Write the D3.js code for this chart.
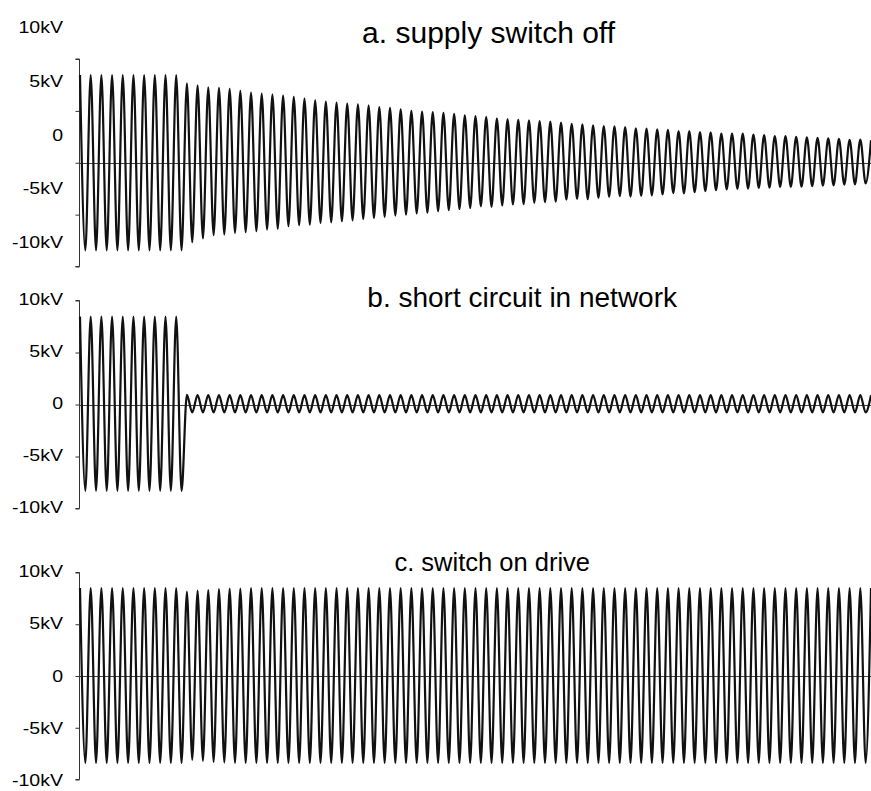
<!DOCTYPE html>
<html>
<head>
<meta charset="utf-8">
<script src="https://cdn.jsdelivr.net/npm/d3@7"></script>
<style>
  html, body { margin: 0; padding: 0; background: #fff; }
  svg { display: block; }
  text { font-family: "Liberation Sans", Arial, sans-serif; fill: #000; }
</style>
</head>
<body>
<div id="chart"></div>
<script>
// number of cycles shown on the time axis
const CYCLES = 74;

const tickValues = [-10, -5, 0, 5, 10];
const tickLabels = ["-10kV", "-5kV", "0", "5kV", "10kV"];
const titles = ["a. supply switch off", "b. short circuit in network", "c. switch on drive"];

// positive peak of each cycle (kV)
const aTop = [
  8.45, 8.45, 8.45, 8.45, 8.45, 8.45, 8.45, 8.45, 8.45, 8.45,
  7.65, 7.46, 7.26, 7.22, 7.12, 6.92, 6.76, 6.66, 6.56, 6.48,
  6.34, 6.18, 6.02, 5.9, 5.8, 5.7, 5.62, 5.52, 5.36, 5.3,
  5.14, 5.0, 4.92, 4.88, 4.8, 4.72, 4.58, 4.5, 4.42, 4.28,
  4.2, 4.16, 4.08, 4.02, 3.96, 3.86, 3.76, 3.7, 3.6, 3.54,
  3.52, 3.44, 3.32, 3.28, 3.22, 3.18, 3.06, 3.04, 2.96, 2.94,
  2.82, 2.82, 2.8, 2.72, 2.66, 2.58, 2.56, 2.5, 2.46, 2.4,
  2.34, 2.3, 2.2, 2.24, 2.18
];
// negative peak of each cycle (kV)
const aBottom = [
  -8.45, -8.45, -8.45, -8.45, -8.45, -8.45, -8.45, -8.45, -8.45, -8.45,
  -7.66, -7.3, -6.98, -6.92, -6.76, -6.7, -6.6, -6.44, -6.36, -6.12,
  -6.02, -5.96, -5.8, -5.74, -5.64, -5.55, -5.42, -5.33, -5.21, -5.09,
  -4.99, -4.88, -4.82, -4.67, -4.57, -4.46, -4.36, -4.2, -4.26, -4.12,
  -4.02, -4.0, -3.86, -3.8, -3.76, -3.56, -3.48, -3.52, -3.38, -3.28,
  -3.22, -3.26, -3.2, -3.14, -3.06, -2.92, -2.96, -2.84, -2.74, -2.64,
  -2.58, -2.52, -2.5, -2.42, -2.4, -2.32, -2.32, -2.3, -2.26, -2.2,
  -2.18, -2.1, -2.08, -2.0
];

const bTop = [
  8.45, 8.45, 8.45, 8.45, 8.45, 8.45, 8.45, 8.45, 8.45, 8.45,
  0.92, 0.9, 0.9, 0.9, 0.9, 0.9, 0.9, 0.9, 0.9, 0.9,
  0.9, 0.9, 0.9, 0.9, 0.9, 0.9, 0.9, 0.9, 0.9, 0.9,
  0.9, 0.9, 0.9, 0.9, 0.9, 0.9, 0.9, 0.9, 0.9, 0.9,
  0.9, 0.9, 0.9, 0.9, 0.9, 0.9, 0.9, 0.9, 0.9, 0.9,
  0.9, 0.9, 0.9, 0.9, 0.9, 0.9, 0.9, 0.9, 0.9, 0.9,
  0.9, 0.9, 0.9, 0.9, 0.9, 0.9, 0.9, 0.9, 0.9, 0.9,
  0.9, 0.9, 0.9, 0.9, 0.9
];
const bBottom = [
  -8.3, -8.3, -8.3, -8.3, -8.3, -8.3, -8.3, -8.3, -8.3, -8.3,
  -0.76, -0.76, -0.76, -0.76, -0.76, -0.76, -0.76, -0.76, -0.76, -0.76,
  -0.76, -0.76, -0.76, -0.76, -0.76, -0.76, -0.76, -0.76, -0.76, -0.76,
  -0.76, -0.76, -0.76, -0.76, -0.76, -0.76, -0.76, -0.76, -0.76, -0.76,
  -0.76, -0.76, -0.76, -0.76, -0.76, -0.76, -0.76, -0.76, -0.76, -0.76,
  -0.76, -0.76, -0.76, -0.76, -0.76, -0.76, -0.76, -0.76, -0.76, -0.76,
  -0.76, -0.76, -0.76, -0.76, -0.76, -0.76, -0.76, -0.76, -0.76, -0.76,
  -0.76, -0.76, -0.76, -0.76
];

const cTop = [
  8.5, 8.5, 8.5, 8.5, 8.5, 8.5, 8.5, 8.5, 8.5, 8.5,
  8.15, 8.25, 8.3, 8.4, 8.45, 8.45, 8.5, 8.5, 8.5, 8.5,
  8.5, 8.5, 8.5, 8.5, 8.5, 8.5, 8.5, 8.5, 8.5, 8.5,
  8.5, 8.5, 8.5, 8.5, 8.5, 8.5, 8.5, 8.5, 8.5, 8.5,
  8.5, 8.5, 8.5, 8.5, 8.5, 8.5, 8.5, 8.5, 8.5, 8.5,
  8.5, 8.5, 8.5, 8.5, 8.5, 8.5, 8.5, 8.5, 8.5, 8.5,
  8.5, 8.5, 8.5, 8.5, 8.5, 8.5, 8.5, 8.5, 8.5, 8.5,
  8.5, 8.5, 8.5, 8.5, 8.5
];
const cBottom = [
  -8.4, -8.4, -8.4, -8.4, -8.4, -8.4, -8.4, -8.4, -8.4, -8.4,
  -8.1, -8.2, -8.3, -8.35, -8.4, -8.4, -8.4, -8.4, -8.4, -8.4,
  -8.4, -8.4, -8.4, -8.4, -8.4, -8.4, -8.4, -8.4, -8.4, -8.4,
  -8.4, -8.4, -8.4, -8.4, -8.4, -8.4, -8.4, -8.4, -8.4, -8.4,
  -8.4, -8.4, -8.4, -8.4, -8.4, -8.4, -8.4, -8.4, -8.4, -8.4,
  -8.4, -8.4, -8.4, -8.4, -8.4, -8.4, -8.4, -8.4, -8.4, -8.4,
  -8.4, -8.4, -8.4, -8.4, -8.4, -8.4, -8.4, -8.4, -8.4, -8.4,
  -8.4, -8.4, -8.4, -8.4
];

const W = 871, H = 791;
const X0 = 79.5;

const panels = [
  { title: titles[0], top: aTop, bottom: aBottom, y0: 266.5, y1: 59,    labY0: 248, labY1: 33,  titleX: 615, titleY: 43,  titleSize: 30 },
  { title: titles[1], top: bTop, bottom: bBottom, y0: 508.5, y1: 300.5, labY0: 513, labY1: 305, titleX: 677, titleY: 307, titleSize: 28 },
  { title: titles[2], top: cTop, bottom: cBottom, y0: 779.5, y1: 572.5, labY0: 786, labY1: 577, titleX: 590, titleY: 571, titleSize: 25.5 }
];

const svg = d3.select("#chart").append("svg")
  .attr("width", W).attr("height", H);

const x = d3.scaleLinear().domain([0, CYCLES]).range([X0 + 0.5, W]);

panels.forEach(p => {
  const y = d3.scaleLinear().domain([-10, 10]).range([p.y0, p.y1]);
  const yLab = d3.scaleLinear().domain([-10, 10]).range([p.labY0, p.labY1]);
  const g = svg.append("g");

  // vertical axis with short ticks on the left
  g.append("g")
    .attr("transform", `translate(${X0},0)`)
    .call(d3.axisLeft(y).tickValues(tickValues).tickSize(4).tickFormat(""))
    .call(a => a.select(".domain").attr("stroke", "#333").attr("d", `M-4,${y(-10)}H0V${y(10)}H-4`))
    .call(a => a.selectAll(".tick line").attr("stroke", "#333"));

  tickValues.forEach((v, i) => {
    g.append("text")
      .attr("transform", `translate(63,${yLab(v)}) scale(1.15,1)`)
      .attr("text-anchor", "end")
      .style("font-size", "17px")
      .text(tickLabels[i]);
  });

  // zero line
  g.append("line")
    .attr("x1", X0).attr("x2", W)
    .attr("y1", Math.round(y(0)) + 0.5).attr("y2", Math.round(y(0)) + 0.5)
    .attr("stroke", "#444").attr("stroke-width", 1);

  // waveform through the alternating peaks
  const pts = [];
  p.top.forEach((v, i) => {
    pts.push([i, v]);
    if (i < p.bottom.length) pts.push([i + 0.5, p.bottom[i]]);
  });
  g.append("path")
    .datum(pts)
    .attr("fill", "none")
    .attr("stroke", "#111")
    .attr("stroke-width", 2.2)
    .attr("stroke-linejoin", "round")
    .attr("d", d3.line().x(d => x(d[0])).y(d => y(d[1])).curve(d3.curveMonotoneX));

  g.append("text")
    .attr("x", p.titleX).attr("y", p.titleY)
    .attr("text-anchor", "end")
    .style("font-size", `${p.titleSize}px`)
    .text(p.title);
});
</script>
</body>
</html>
